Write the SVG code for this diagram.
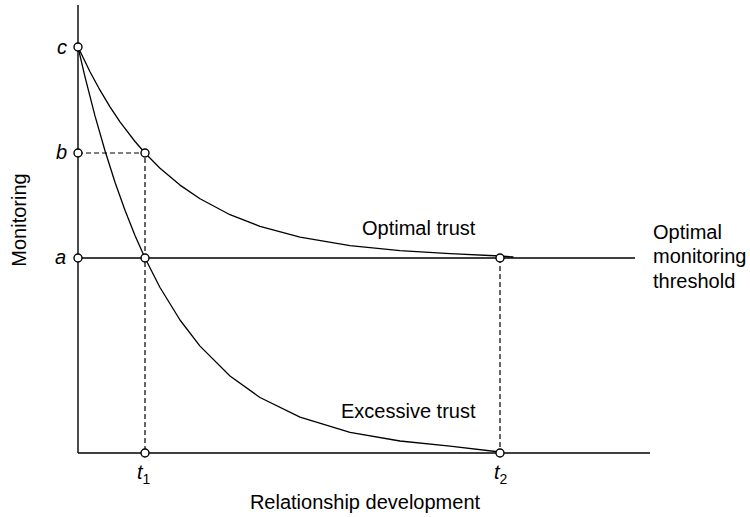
<svg xmlns="http://www.w3.org/2000/svg" width="750" height="517" viewBox="0 0 750 517">
  <style>
    .axis { stroke: #000; stroke-width: 1.4; fill: none; }
    .curve { stroke: #000; stroke-width: 1.3; fill: none; stroke-linejoin: round; stroke-linecap: round; }
    .dash { stroke: #000; stroke-width: 1.2; fill: none; stroke-dasharray: 5 3; }
    .pt { fill: #fff; stroke: #000; stroke-width: 1.4; }
    text { font-family: "Liberation Sans", Arial, sans-serif; font-size: 20px; fill: #000; }
    .it { font-style: italic; }
    .sub { font-size: 14px; }
  </style>
  <rect width="750" height="517" fill="#fff"/>

  <g id="connectors">
    <!-- axes -->
    <line class="axis" x1="78" y1="5" x2="78" y2="453"/>
    <line class="axis" x1="78" y1="453" x2="650" y2="453"/>
    <!-- optimal monitoring threshold -->
    <line class="axis" x1="78" y1="258" x2="635" y2="258"/>
    <!-- guide lines -->
    <polyline class="dash" points="78,153 145,153 145,453"/>
    <line class="dash" x1="500" y1="258" x2="500" y2="453"/>
    <!-- optimal trust curve -->
    <polyline id="optimal-curve" class="curve" points="78,47 90,71.8 100,90.2 110,106.8 120,121.8 135,141.5 145,153 160,168.2 180,185.1 200,198.8 230,214.7 260,226.3 300,237.1 350,245.6 400,250.6 450,253.6 500,256 513,257"/>
    <!-- excessive trust curve -->
    <polyline id="excessive-curve" class="curve" points="78,47 85,76.9 95,115.9 105,150.8 115,182.2 125,210.2 135,235.4 145,258 160,287.5 180,320 200,346.1 230,376 260,397.5 300,417.2 350,432.3 400,441 450,446.1 500,452"/>
  </g>

  <g id="point-c"><circle class="pt" cx="78" cy="47" r="4"/><text class="it" x="67" y="54" text-anchor="end">c</text></g>
  <g id="point-b"><circle class="pt" cx="78" cy="153" r="4"/><text class="it" x="67" y="159" text-anchor="end">b</text></g>
  <g id="point-a"><circle class="pt" cx="78" cy="258" r="4"/><text class="it" x="66" y="264" text-anchor="end">a</text></g>
  <g id="point-b-t1"><circle class="pt" cx="145" cy="153" r="4"/></g>
  <g id="point-a-t1"><circle class="pt" cx="145" cy="258" r="4"/></g>
  <g id="point-a-t2"><circle class="pt" cx="500" cy="258" r="4"/></g>
  <g id="point-t1"><circle class="pt" cx="145" cy="453" r="4"/><text x="137" y="479"><tspan class="it">t</tspan><tspan class="sub" dy="5">1</tspan></text></g>
  <g id="point-t2"><circle class="pt" cx="500" cy="453" r="4"/><text x="494" y="479"><tspan class="it">t</tspan><tspan class="sub" dy="5">2</tspan></text></g>

  <g id="labels">
    <text x="362" y="235">Optimal trust</text>
    <text x="341" y="418">Excessive trust</text>
    <text x="653" y="239">Optimal</text>
    <text x="653" y="263">monitoring</text>
    <text x="653" y="288">threshold</text>
    <text x="365" y="509" text-anchor="middle">Relationship development</text>
    <text x="0" y="0" text-anchor="middle" transform="translate(26,220) rotate(-90)">Monitoring</text>
  </g>
</svg>
